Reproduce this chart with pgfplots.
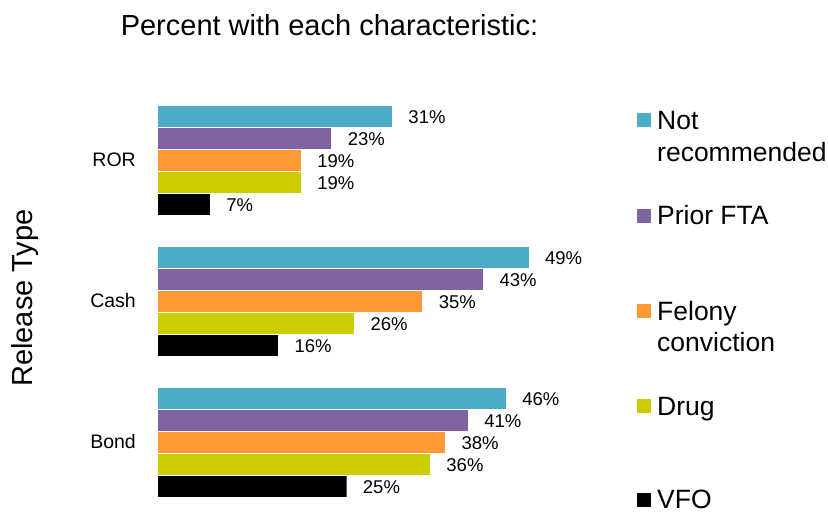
\documentclass[border=0pt]{standalone}
\usepackage{pgfplots}
\pgfplotsset{compat=1.18}
\usepackage{fontspec}
\setmainfont{Liberation Sans}
\definecolor{cNot}{HTML}{4BACC6}
\definecolor{cPrior}{HTML}{8064A2}
\definecolor{cFel}{HTML}{FF9933}
\definecolor{cDrug}{HTML}{CCCC00}
\definecolor{cVFO}{HTML}{000000}
\begin{document}
\begin{tikzpicture}
\path[use as bounding box] (0,0) rectangle (828pt,-514pt);
\begin{axis}[
  at={(157pt,-512.5pt)}, anchor=south west,
  scale only axis, width=455.4pt, height=423pt,
  xmin=0, xmax=60, ymin=-0.5, ymax=2.5,
  xbar, bar width=0.153,
  axis line style={draw=none},
  major tick length=0pt,
  xtick=\empty,
  ytick={0,1,2}, yticklabels={Bond,Cash,ROR},
  yticklabel style={font=\fontsize{19.5}{22}\selectfont, inner sep=0pt, anchor=east, xshift=-21pt},
  /pgf/number format/assume math mode=true,
  point meta=x,
  nodes near coords={\pgfmathprintnumber{\pgfplotspointmeta}\%},
  nodes near coords style={font=\fontsize{18.5}{22}\selectfont, anchor=west, inner sep=0pt, xshift=16pt, yshift=-1pt, text=black},
  every axis plot/.append style={draw=white, line width=0.4pt},
  clip=false,
]
\addplot[fill=cNot, bar shift=0.312] coordinates {(46,0) (49,1) (31,2)};
\addplot[fill=cPrior, bar shift=0.156] coordinates {(41,0) (43,1) (23,2)};
\addplot[fill=cFel, bar shift=0] coordinates {(38,0) (35,1) (19,2)};
\addplot[fill=cDrug, bar shift=-0.156] coordinates {(36,0) (26,1) (19,2)};
\addplot[fill=cVFO, bar shift=-0.312] coordinates {(25,0) (16,1) (7,2)};
\end{axis}
% title and axis label
\node[anchor=base, font=\fontsize{29}{34}\selectfont, inner sep=0pt] at (329.5pt,-35pt) {Percent with each characteristic:};
\node[anchor=base, rotate=90, font=\fontsize{29}{34}\selectfont, inner sep=0pt] at (32pt,-298pt) {Release Type};
% legend
\begin{scope}[every node/.style={anchor=base west, inner sep=0pt, font=\fontsize{26.5}{31}\selectfont}]
\fill[cNot] (637pt,-113pt) rectangle (651pt,-127pt);
\node at (657pt,-129pt) {Not};
\node at (657pt,-161pt) {recommended};
\fill[cPrior] (637pt,-209pt) rectangle (651pt,-223pt);
\node at (657pt,-224pt) {Prior FTA};
\fill[cFel] (637pt,-304pt) rectangle (651pt,-318pt);
\node at (657pt,-320pt) {Felony};
\node at (657pt,-351pt) {conviction};
\fill[cDrug] (637pt,-399pt) rectangle (651pt,-413pt);
\node at (657pt,-415pt) {Drug};
\fill[cVFO] (637pt,-493pt) rectangle (651pt,-507pt);
\node at (657pt,-508pt) {VFO};
\end{scope}
\end{tikzpicture}
\end{document}
